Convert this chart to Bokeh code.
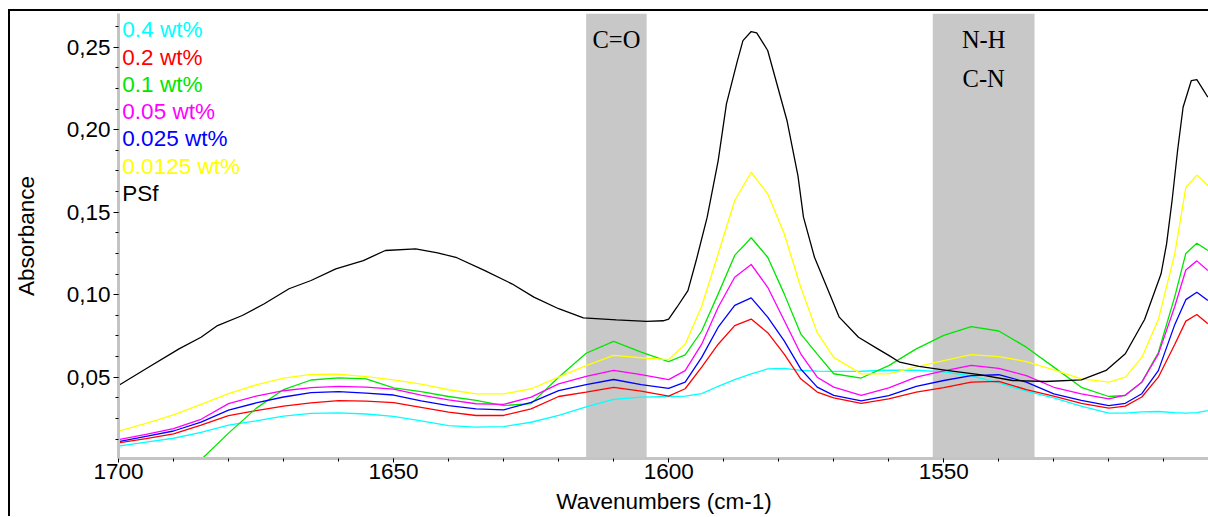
from bokeh.plotting import figure
from bokeh.models import Range1d, SingleIntervalTicker, CustomJSTickFormatter, BoxAnnotation, Label
from bokeh.embed import file_html
from bokeh.resources import INLINE

# ---------------- data ----------------
wavenumbers = [1700, 1695, 1690, 1685, 1680, 1675, 1670, 1665, 1660, 1655, 1650,
               1645, 1640, 1635, 1630, 1625, 1620, 1615, 1610, 1605, 1600,
               1597, 1594, 1591, 1588, 1585, 1582, 1579, 1576, 1573, 1570,
               1565, 1560, 1555, 1550, 1545, 1540, 1535, 1530, 1525, 1520,
               1517, 1514, 1511, 1508, 1506, 1504, 1502]

abs_0_4 = [0.0082, 0.0107, 0.0130, 0.0166, 0.0210, 0.0235, 0.0264, 0.0281, 0.0284, 0.0277, 0.0262,
           0.0235, 0.0207, 0.0197, 0.0201, 0.0227, 0.0268, 0.0320, 0.0366, 0.0379, 0.0383,
           0.0385, 0.0400, 0.0445, 0.0485, 0.0520, 0.0550, 0.0553, 0.0541, 0.0537, 0.0535,
           0.0536, 0.0542, 0.0542, 0.0532, 0.0508, 0.0465, 0.0415, 0.0375, 0.0325, 0.0282,
           0.0282, 0.0290, 0.0292, 0.0285, 0.0282, 0.0285, 0.0298]

abs_0_2 = [0.0102, 0.0128, 0.0157, 0.0210, 0.0267, 0.0298, 0.0325, 0.0345, 0.0358, 0.0355, 0.0346,
           0.0317, 0.0288, 0.0268, 0.0268, 0.0308, 0.0383, 0.0410, 0.0438, 0.0415, 0.0385,
           0.0430, 0.0561, 0.0700, 0.0813, 0.0852, 0.0770, 0.0640, 0.0490, 0.0410, 0.0375,
           0.0342, 0.0369, 0.0409, 0.0437, 0.0470, 0.0475, 0.0425, 0.0385, 0.0342, 0.0312,
           0.0325, 0.0380, 0.0500, 0.0700, 0.0840, 0.0880, 0.0824]

abs_0_1 = [-0.045, -0.030, -0.015, 0.000, 0.0161, 0.0311, 0.0425, 0.0483, 0.0496, 0.0490, 0.0435,
           0.0413, 0.0383, 0.0359, 0.0328, 0.0340, 0.0500, 0.0645, 0.0717, 0.0652, 0.0595,
           0.0635, 0.0780, 0.1005, 0.1238, 0.1345, 0.1227, 0.1005, 0.0763, 0.0640, 0.0521,
           0.0495, 0.0570, 0.0672, 0.0753, 0.0807, 0.0780, 0.0682, 0.0561, 0.0439, 0.0383,
           0.0389, 0.0470, 0.0650, 0.0990, 0.1250, 0.1312, 0.1268]

abs_0_05 = [0.0122, 0.0154, 0.0188, 0.0245, 0.0340, 0.0385, 0.0418, 0.0437, 0.0444, 0.0440, 0.0428,
            0.0392, 0.0363, 0.0339, 0.0335, 0.0379, 0.0460, 0.0505, 0.0541, 0.0515, 0.0485,
            0.0540, 0.0700, 0.0924, 0.1106, 0.1183, 0.1045, 0.0844, 0.0642, 0.0500, 0.0440,
            0.0390, 0.0435, 0.0500, 0.0538, 0.0572, 0.0553, 0.0510, 0.0439, 0.0399, 0.0369,
            0.0392, 0.0470, 0.0640, 0.0930, 0.1150, 0.1205, 0.1147]

abs_0_025 = [0.0110, 0.0142, 0.0174, 0.0228, 0.0300, 0.0344, 0.0380, 0.0406, 0.0413, 0.0403, 0.0392,
             0.0357, 0.0328, 0.0308, 0.0302, 0.0348, 0.0419, 0.0455, 0.0486, 0.0455, 0.0432,
             0.0470, 0.0620, 0.0803, 0.0935, 0.0981, 0.0864, 0.0720, 0.0550, 0.0440, 0.0390,
             0.0357, 0.0389, 0.0444, 0.0480, 0.0510, 0.0515, 0.0470, 0.0399, 0.0359, 0.0328,
             0.0342, 0.0400, 0.0540, 0.0820, 0.0970, 0.1015, 0.0965]

abs_0_0125 = [0.0173, 0.0220, 0.0272, 0.0335, 0.0400, 0.0453, 0.0494, 0.0517, 0.0518, 0.0503, 0.0484,
              0.0458, 0.0424, 0.0399, 0.0399, 0.0430, 0.0500, 0.0570, 0.0632, 0.0618, 0.0607,
              0.0700, 0.0930, 0.1248, 0.1571, 0.1742, 0.1611, 0.1369, 0.1045, 0.0770, 0.0620,
              0.0520, 0.0520, 0.0563, 0.0601, 0.0637, 0.0625, 0.0595, 0.0545, 0.0490, 0.0470,
              0.0500, 0.0620, 0.0850, 0.1250, 0.1650, 0.1725, 0.1662]

psf_wavenumbers = [1700, 1695, 1689, 1685, 1682, 1677.5, 1673.5, 1669, 1665, 1660.5,
                   1655.5, 1651.5, 1646, 1642, 1638.5, 1633.5, 1628.5, 1624.5, 1620, 1615.5,
                   1609.5, 1604, 1601, 1600, 1598.5, 1596.5, 1595, 1593, 1591, 1589.5,
                   1587.5, 1586.5, 1585, 1584, 1582, 1580.5, 1578.5, 1576.5, 1575.5, 1573.5,
                   1571, 1569, 1565.5, 1562, 1560, 1558, 1554.5, 1549.5, 1543.5, 1537.5,
                   1531.5, 1525, 1520.5, 1517, 1513.5, 1510.5, 1509.5, 1508.5, 1507.5, 1506.5,
                   1505, 1504, 1502]
abs_psf = [0.0450, 0.0551, 0.0672, 0.0742, 0.0813, 0.0874, 0.0945, 0.1036, 0.1086, 0.1157,
           0.1207, 0.1268, 0.1278, 0.1254, 0.1224, 0.1147, 0.1066, 0.0985, 0.0915, 0.0860,
           0.0848, 0.0838, 0.0842, 0.0852, 0.0924, 0.1025, 0.1207, 0.1470, 0.1813, 0.2157,
           0.2419, 0.2540, 0.2595, 0.2587, 0.2480, 0.2298, 0.2056, 0.1720, 0.1470, 0.1227,
           0.1025, 0.0864, 0.0742, 0.0672, 0.0632, 0.0591, 0.0565, 0.0541, 0.0515, 0.0480,
           0.0474, 0.0484, 0.0541, 0.0642, 0.0850, 0.1127, 0.1308, 0.1571, 0.1874, 0.2136,
           0.2298, 0.2304, 0.2197]

series_labels = ["0.4 wt%", "0.2 wt%", "0.1 wt%", "0.05 wt%", "0.025 wt%", "0.0125 wt%", "PSf"]
series_colors = ["#00ffff", "#ff0000", "#00e600", "#ff00ff", "#0000ff", "#ffff00", "#000000"]

band_ranges = [(1615.0, 1604.0), (1552.0, 1533.5)]
band_texts = [["C=O"], ["N-H", "C-N"]]

# ---------------- figure ----------------
FONT = "Liberation Sans"
p = figure(frame_width=1091, frame_height=445,
           min_border_left=107, min_border_right=0, min_border_top=2, min_border_bottom=55,
           x_range=Range1d(1700, 1501.7), y_range=Range1d(0.00073, 0.27042),
           output_backend="svg", toolbar_location=None)
p.styles = {"margin-left": "8px", "margin-top": "9px",
            "border-left": "2px solid #000000", "border-top": "2px solid #000000"}
p.outline_line_color = None
p.background_fill_color = "white"
p.xgrid.visible = False
p.ygrid.visible = False

for (lo, hi) in band_ranges:
    p.add_layout(BoxAnnotation(left=lo, right=hi, fill_color="#c8c8c8", fill_alpha=1.0,
                               line_color=None, level="underlay"))

series_y = [abs_0_4, abs_0_2, abs_0_1, abs_0_05, abs_0_025, abs_0_0125]
for ys, col in zip(series_y, series_colors[:6]):
    p.line(wavenumbers, ys, line_color=col, line_width=1.3)
p.line(psf_wavenumbers, abs_psf, line_color=series_colors[6], line_width=1.3)

# legend as coloured text
for i, (lab, col) in enumerate(zip(series_labels, series_colors)):
    p.add_layout(Label(x=1699.3, y=0.2606 - i * 0.01655, text=lab, text_color=col,
                       text_font=FONT, text_font_size="22.5px",
                       text_align="left", text_baseline="middle"))

# band labels
band_label_y = [0.2548, 0.2310]
for (lo, hi), texts in zip(band_ranges, band_texts):
    for j, t in enumerate(texts):
        p.add_layout(Label(x=(lo + hi) / 2, y=band_label_y[j], text=t, text_color="black",
                           text_font="Liberation Serif", text_font_size="24.5px",
                           text_align="center", text_baseline="middle"))

# axes
for ax in (p.xaxis[0], p.yaxis[0]):
    ax.axis_line_color = "#c4c4c4"
    ax.axis_line_width = 3
    ax.major_tick_line_color = "black"
    ax.minor_tick_line_color = "black"
    ax.major_tick_in = 0
    ax.minor_tick_in = 0
    ax.major_label_text_font = FONT
    ax.major_label_text_font_size = "22.5px"
    ax.major_label_text_color = "black"
    ax.axis_label_text_font = FONT
    ax.axis_label_text_font_size = "22.5px"
    ax.axis_label_text_font_style = "normal"
    ax.axis_label_text_color = "black"

p.xaxis.ticker = SingleIntervalTicker(interval=50, num_minor_ticks=5)
p.yaxis.ticker = SingleIntervalTicker(interval=0.05, num_minor_ticks=4)
p.yaxis.formatter = CustomJSTickFormatter(code="return tick.toFixed(2).replace('.', ',');")
p.xaxis.major_tick_out = 4
p.xaxis.minor_tick_out = 3
p.yaxis.major_tick_out = 5
p.yaxis.minor_tick_out = 3
p.xaxis.major_label_standoff = 1
p.yaxis.major_label_standoff = 3
p.xaxis.axis_label = "Wavenumbers (cm-1)"
p.yaxis.axis_label = "Absorbance"
p.xaxis.axis_label_standoff = 7
p.yaxis.axis_label_standoff = 25

open("out.html", "w").write(file_html(p, INLINE))
